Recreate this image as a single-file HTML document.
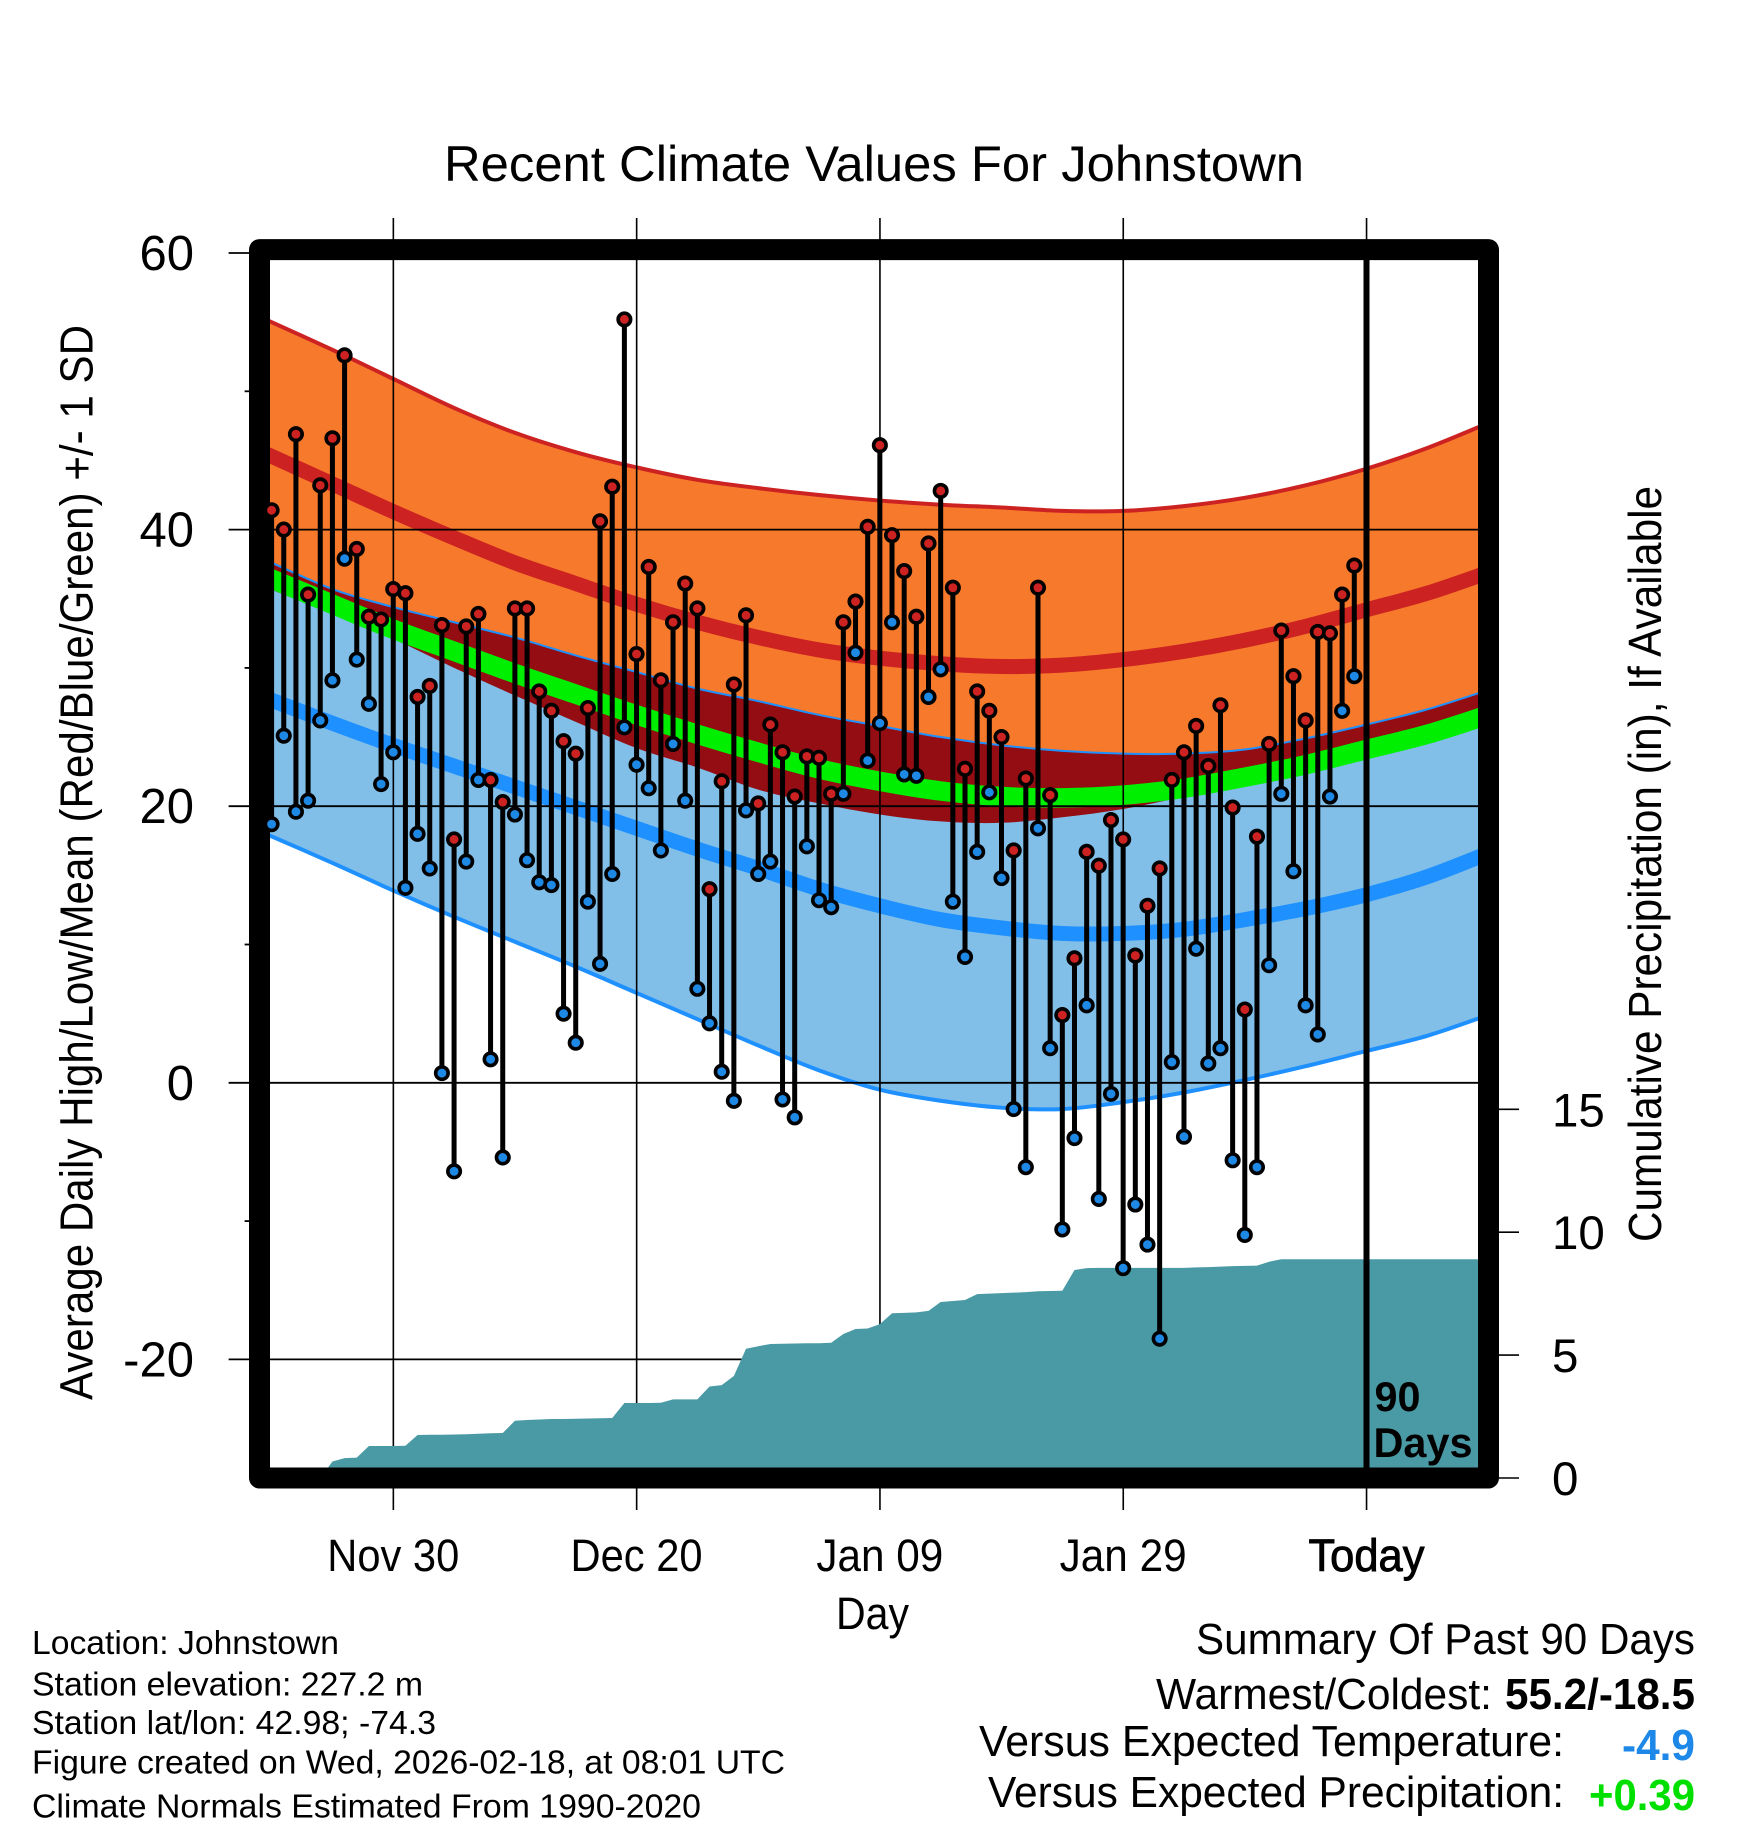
<!DOCTYPE html>
<html lang="en">
<head>
<meta charset="utf-8">
<title>Recent Climate Values For Johnstown</title>
<style>
html,body{margin:0;padding:0;background:#fff;}
svg{display:block;}
text{font-family:"Liberation Sans",Arial,sans-serif;fill:#000;}
</style>
</head>
<body>
<svg id="chart" xmlns="http://www.w3.org/2000/svg" width="1748" height="1828" viewBox="0 0 1748 1828">
  <defs>
    <clipPath id="plot-clip"><rect x="270" y="260" width="1208" height="1207.5"/></clipPath>
  </defs>
  <rect x="0" y="0" width="1748" height="1828" fill="#fff"/>
  <g id="bands" clip-path="url(#plot-clip)"></g>
  <g id="grid"></g>
  <g id="precip" clip-path="url(#plot-clip)"></g>
  <rect x="259.5" y="249.6" width="1229" height="1228.4" fill="none" stroke="#000" stroke-width="21" stroke-linejoin="round"/>
  <line x1="1366.5" y1="250" x2="1366.5" y2="1478" stroke="#000" stroke-width="6"/>
  <g id="points"></g>
  <g id="labels"></g>

  <text x="444" y="181" font-size="50" textLength="860" lengthAdjust="spacingAndGlyphs">Recent Climate Values For Johnstown</text>
  <text transform="translate(92.5,1400) rotate(-90)" font-size="46" textLength="1075" lengthAdjust="spacingAndGlyphs">Average Daily High/Low/Mean (Red/Blue/Green) +/- 1 SD</text>
  <text transform="translate(1661,1242) rotate(-90)" font-size="46" textLength="756" lengthAdjust="spacingAndGlyphs">Cumulative Precipitation (in), If Available</text>
  <text x="836" y="1629" font-size="45" textLength="73" lengthAdjust="spacingAndGlyphs">Day</text>

  <text x="1374.5" y="1411" font-size="42" font-weight="bold" textLength="46" lengthAdjust="spacingAndGlyphs">90</text>
  <text x="1373.5" y="1457" font-size="42" font-weight="bold" textLength="99" lengthAdjust="spacingAndGlyphs">Days</text>

  <g>
    <text x="32" y="1654" font-size="33" textLength="307" lengthAdjust="spacingAndGlyphs">Location: Johnstown</text>
    <text x="32" y="1695.5" font-size="33" textLength="391" lengthAdjust="spacingAndGlyphs">Station elevation: 227.2 m</text>
    <text x="32" y="1734" font-size="33" textLength="404" lengthAdjust="spacingAndGlyphs">Station lat/lon: 42.98; -74.3</text>
    <text x="32" y="1773.5" font-size="33" textLength="753" lengthAdjust="spacingAndGlyphs">Figure created on Wed, 2026-02-18, at 08:01 UTC</text>
    <text x="32" y="1817.5" font-size="33" textLength="669" lengthAdjust="spacingAndGlyphs">Climate Normals Estimated From 1990-2020</text>
  </g>

  <g>
    <text x="1196" y="1654" font-size="44" textLength="499" lengthAdjust="spacingAndGlyphs">Summary Of Past 90 Days</text>
    <text x="1156" y="1709" font-size="44" textLength="336" lengthAdjust="spacingAndGlyphs">Warmest/Coldest:</text>
    <text x="1505" y="1709" font-size="44" font-weight="bold" textLength="190" lengthAdjust="spacingAndGlyphs">55.2/-18.5</text>
    <text x="979" y="1756" font-size="44" textLength="585" lengthAdjust="spacingAndGlyphs">Versus Expected Temperature:</text>
    <text x="1622" y="1760" font-size="44" font-weight="bold" textLength="73" lengthAdjust="spacingAndGlyphs" style="fill:#1e88e8">-4.9</text>
    <text x="988" y="1807" font-size="44" textLength="576" lengthAdjust="spacingAndGlyphs">Versus Expected Precipitation:</text>
    <text x="1589" y="1810" font-size="44" font-weight="bold" textLength="106" lengthAdjust="spacingAndGlyphs" style="fill:#00e000">+0.39</text>
  </g>
</svg>
<script>
// ---- data ----
const highs = [41.4,40,46.9,35.3,43.2,46.6,52.6,38.6,33.7,33.5,35.7,35.4,27.9,28.7,33.1,17.6,33,33.9,21.9,20.3,34.3,34.3,28.3,26.9,24.7,23.8,27.1,40.6,43.1,55.2,31,37.3,29.1,33.3,36.1,34.3,14,21.8,28.8,33.8,20.2,25.9,23.9,20.7,23.6,23.5,20.9,33.3,34.8,40.2,46.1,39.6,37,33.7,39,42.8,35.8,22.7,28.3,26.9,25,16.8,22,35.8,20.8,4.9,9,16.7,15.7,19,17.6,9.2,12.8,15.5,21.9,23.9,25.8,22.9,27.3,19.9,5.3,17.8,24.5,32.7,29.4,26.2,32.6,32.5,35.3,37.4];
const lows = [18.7,25.1,19.6,20.4,26.2,29.1,37.9,30.6,27.4,21.6,23.9,14.1,18,15.5,0.7,-6.4,16,21.9,1.7,-5.4,19.4,16.1,14.5,14.3,5,2.9,13.1,8.6,15.1,25.7,23,21.3,16.8,24.5,20.4,6.8,4.3,0.8,-1.3,19.7,15.1,16,-1.2,-2.5,17.1,13.2,12.7,20.9,31.1,23.3,26,33.3,22.3,22.2,27.9,29.9,13.1,9.1,16.7,21,14.8,-1.9,-6.1,18.4,2.5,-10.6,-4,5.6,-8.4,-0.8,-13.4,-8.8,-11.7,-18.5,1.5,-3.9,9.7,1.4,2.5,-5.6,-11,-6.1,8.5,20.9,15.3,5.6,3.5,20.7,26.9,29.4];
const precip = [0,0,0,0,0,0.67,0.81,0.83,1.3,1.3,1.3,1.31,1.75,1.76,1.76,1.77,1.78,1.8,1.82,1.83,2.33,2.36,2.38,2.4,2.4,2.41,2.42,2.43,2.44,3.05,3.05,3.05,3.06,3.2,3.2,3.2,3.72,3.78,4.15,5.26,5.36,5.45,5.46,5.47,5.48,5.48,5.5,5.86,6.06,6.08,6.26,6.7,6.72,6.74,6.8,7.16,7.2,7.24,7.48,7.5,7.52,7.54,7.56,7.6,7.61,7.62,8.46,8.54,8.55,8.55,8.55,8.55,8.55,8.55,8.55,8.55,8.57,8.58,8.6,8.62,8.63,8.64,8.8,8.9,8.9,8.9,8.9,8.9,8.9,8.9,8.9,8.9,8.9,8.9,8.9,8.9,8.9,8.9,8.9,8.9,8.9];
const bandDays = [-1,5,10,15,20,25,30,35,40,45,50,55,60,65,70,75,80,85,90,95,100];
const highUpper = [55.4,53,50.9,48.8,47,45.6,44.5,43.6,43,42.5,42.1,41.8,41.6,41.35,41.35,41.7,42.3,43.2,44.4,45.9,47.7];
const highMean = [45.7,43.3,41.3,39.4,37.6,36.1,34.6,33.3,32.2,31.3,30.7,30.3,30.1,30.2,30.6,31.2,32,33,34.2,35.4,36.9];
const highLower = [36,33.9,32.1,30,28,26.1,24.2,22.8,21.2,20.2,19.4,18.9,18.8,19.2,19.8,20.7,21.8,22.9,24,25,26];
const lowUpper = [38,35.7,34.4,33.3,32.2,30.9,29.7,28.5,27.6,26.6,25.8,25,24.4,24,23.8,23.8,24.1,24.9,25.9,27,28.4];
const lowMean = [28,26,24.4,22.9,21.4,19.9,18.4,16.9,15.5,14,12.8,11.8,11.2,10.8,10.8,11.1,11.8,12.6,13.6,14.9,16.6];
const lowLower = [18.2,15.9,13.9,12,10.2,8.4,6.5,4.6,2.7,0.9,-0.5,-1.3,-1.8,-1.9,-1.4,-0.7,0.2,1.2,2.3,3.4,4.9];
const avgMean = [36.8,34.6,32.8,31.2,29.6,28.1,26.6,25.2,23.9,22.7,21.8,21.1,20.7,20.6,20.8,21.3,22.1,23,24.1,25.2,26.6];
const yMajorTicks = [60,40,20,0,-20];
const yMajorLabels = ['60','40','20','0','-20'];
const yMinorTicks = [50,30,10,-10];
const xTickDays = [10,30,50,70,90];
const xTickLabels = ['Nov 30','Dec 20','Jan 09','Jan 29','Today'];
const precipTicks = [0,5,10,15];
const precipLabels = ['0','5','10','15'];

// ---- axis functions ----
const NS = 'http://www.w3.org/2000/svg';
function xScale(d){ return 271.6 + d * 12.165; }
function yScale(v){ return 253 + (60 - v) * 13.83; }
function precipScale(p){ return 1478 - p * 24.58; }

function make(tag, parent, attrs){
  const el = document.createElementNS(NS, tag);
  for (const k in attrs) el.setAttribute(k, attrs[k]);
  parent.appendChild(el);
  return el;
}
function curve(days, vals){
  const p = days.map((d, i) => [xScale(d), yScale(vals[i])]);
  let s = 'M' + p[0][0].toFixed(2) + ' ' + p[0][1].toFixed(2);
  for (let i = 0; i < p.length - 1; i++){
    const a = p[Math.max(i - 1, 0)], b = p[i], c = p[i + 1], e = p[Math.min(i + 2, p.length - 1)];
    s += 'C' + (b[0] + (c[0] - a[0]) / 6).toFixed(2) + ' ' + (b[1] + (c[1] - a[1]) / 6).toFixed(2) + ' ' +
         (c[0] - (e[0] - b[0]) / 6).toFixed(2) + ' ' + (c[1] - (e[1] - b[1]) / 6).toFixed(2) + ' ' +
         c[0].toFixed(2) + ' ' + c[1].toFixed(2);
  }
  return s;
}
function area(top, bottom){
  const revDays = bandDays.slice().reverse();
  return curve(bandDays, top) + 'L' + curve(revDays, bottom.slice().reverse()).slice(1) + 'Z';
}

// ---- bands ----
const bands = document.getElementById('bands');
let el;
el = make('path', bands, {d: area(highUpper, highLower), fill: '#f7792b'});


el = make('path', bands, {d: area(lowUpper, lowLower), fill: '#81bfe8'});


el = make('path', bands, {d: area(lowUpper, highLower), fill: '#930d12'});


el = make('path', bands, {d: curve(bandDays, highUpper), fill: 'none', stroke: '#cc2222', 'stroke-width': 4});


el = make('path', bands, {d: curve(bandDays, lowUpper), fill: 'none', stroke: '#1e90ff', 'stroke-width': 2});


el = make('path', bands, {d: curve(bandDays, lowLower), fill: 'none', stroke: '#1e90ff', 'stroke-width': 4});


el = make('path', bands, {d: curve(bandDays, avgMean), fill: 'none', stroke: '#00ee00', 'stroke-width': 19.5});


el = make('path', bands, {d: curve(bandDays, highMean), fill: 'none', stroke: '#cc2222', 'stroke-width': 15});


el = make('path', bands, {d: curve(bandDays, lowMean), fill: 'none', stroke: '#1e90ff', 'stroke-width': 15});



// ---- grid & ticks ----
const grid = document.getElementById('grid');
const labels = document.getElementById('labels');
yMajorTicks.forEach((v, i) => {
  const g = make('line', grid, {x1: 228.6, x2: 1478, y1: yScale(v), y2: yScale(v), stroke: '#000', 'stroke-width': 1.8});
  
  
  const t = make('text', labels, {x: 194, y: yScale(v) + 17, 'font-size': 49, 'text-anchor': 'end'});
  
  
  t.textContent = yMajorLabels[i];
});
yMinorTicks.forEach(v => {
  const g = make('line', grid, {x1: 244.6, x2: 250, y1: yScale(v), y2: yScale(v), stroke: '#000', 'stroke-width': 1.8});
  
  
});
xTickDays.forEach((d, i) => {
  const g = make('line', grid, {x1: xScale(d) + 0.1, x2: xScale(d) + 0.1, y1: 218, y2: 1510, stroke: '#000', 'stroke-width': 1.6});
  
  
  const t = make('text', labels, {x: xScale(d), y: 1571, 'font-size': 45, 'text-anchor': 'middle', textLength: i === 4 ? 116 : (i < 2 ? 132 : 127), lengthAdjust: 'spacingAndGlyphs'});
  
  
  if (i === 4) { t.setAttribute('stroke', '#000'); t.setAttribute('stroke-width', '0.9'); }
  t.textContent = xTickLabels[i];
});
precipTicks.forEach((p, i) => {
  const g = make('line', grid, {x1: 1499, x2: 1519, y1: precipScale(p), y2: precipScale(p), stroke: '#000', 'stroke-width': 1.6});
  
  
  const t = make('text', labels, {x: 1552, y: precipScale(p) + 17, 'font-size': 47.5});
  
  
  t.textContent = precipLabels[i];
});

// ---- precipitation ----
let pd = 'M' + xScale(0) + ' ' + precipScale(0);
precip.forEach((p, i) => { pd += 'L' + xScale(i).toFixed(2) + ' ' + precipScale(p).toFixed(2); });
pd += 'L' + xScale(precip.length - 1).toFixed(2) + ' ' + precipScale(0) + 'Z';
el = make('path', document.getElementById('precip'), {d: pd, fill: '#4a9aa5'});



// ---- daily high/low ----
const points = document.getElementById('points');
highs.forEach((h, i) => {
  const stem = make('line', points, {x1: xScale(i), x2: xScale(i), y1: yScale(h), y2: yScale(lows[i]), stroke: '#000', 'stroke-width': 5});
  
  
});
highs.forEach((h, i) => {
  const lo = make('circle', points, {cx: xScale(i), cy: yScale(lows[i]), r: 6.25, fill: '#1e88e5', stroke: '#000', 'stroke-width': 3.6});
  
  
  const hi = make('circle', points, {cx: xScale(i), cy: yScale(h), r: 6.25, fill: '#cc2222', stroke: '#000', 'stroke-width': 3.6});
  
  
});
</script>
</body>
</html>
